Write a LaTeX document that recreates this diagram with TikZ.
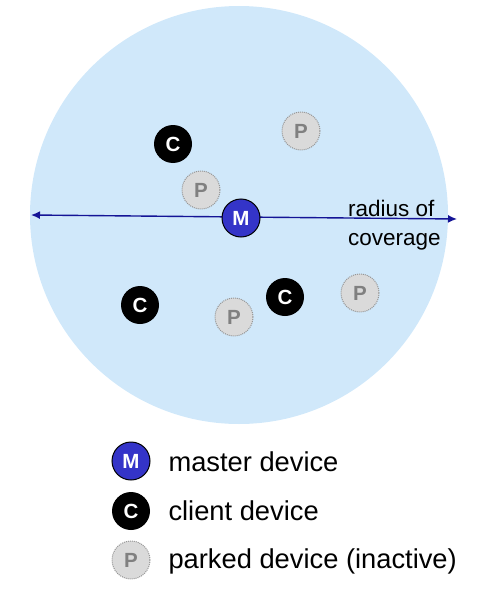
\documentclass[tikz,border=0pt]{standalone}
\usepackage{fontspec}
\setmainfont{Liberation Sans}
\usetikzlibrary{arrows.meta}
\definecolor{cover}{RGB}{208,232,250}
\definecolor{mblue}{RGB}{52,52,200}
\definecolor{arrowblue}{RGB}{20,20,150}
\definecolor{pgray}{RGB}{218,218,218}
\definecolor{pborder}{RGB}{150,150,150}
\definecolor{pletter}{RGB}{128,128,128}
\tikzset{
  dev/.style={circle, minimum size=38pt, inner sep=0pt, font=\fontsize{20.5}{20}\selectfont\bfseries},
  master/.style={dev, fill=mblue, draw=black, line width=1pt, text=white, font=\fontsize{20.5}{20}\selectfont\bfseries},
  client/.style={dev, fill=black, text=white},
  parked/.style={dev, fill=pgray, draw=pborder, densely dotted, line width=1pt, text=pletter},
  legtext/.style={anchor=west, font=\fontsize{27.3}{27}\selectfont},
  tip/.style={-{Latex[length=9pt,width=8pt]}},
}
\begin{document}
\begin{tikzpicture}[x=1pt, y=-1pt]
\useasboundingbox (0,0) rectangle (484,602);
\fill[cover] (239,215) circle (209);
\node[client] (c1) at (173,144) {C};
\node[parked] (p1) at (301,131) {P};
\node[parked] (p2) at (201,190) {P};
\node[client] (c2) at (140,305) {C};
\node[parked] (p3) at (234,317) {P};
\node[client] (c3) at (285,297) {C};
\node[parked] (p4) at (360,293) {P};
\coordinate (la) at (31,215);
\coordinate (ra) at (457,219);
\draw[arrowblue, line width=1.4pt, tip] (241,217) -- (la);
\draw[arrowblue, line width=1.4pt, tip] (241,217) -- (ra);
\node[master] (m) at (241,218) {M};
\node[anchor=north west, inner sep=0pt, align=left, font=\fontsize{22.5}{29}\selectfont] (rad) at (348,200) {radius of\\coverage};
\node[master] (lm) at (131,461) {M};
\node[legtext] (tm) at (165,462) {master device};
\node[client] (lc) at (131,511) {C};
\node[legtext] (tc) at (165,511) {client device};
\node[parked] (lp) at (131,560) {P};
\node[legtext] (tp) at (165,561) {parked device (inactive)};
\end{tikzpicture}
\end{document}
